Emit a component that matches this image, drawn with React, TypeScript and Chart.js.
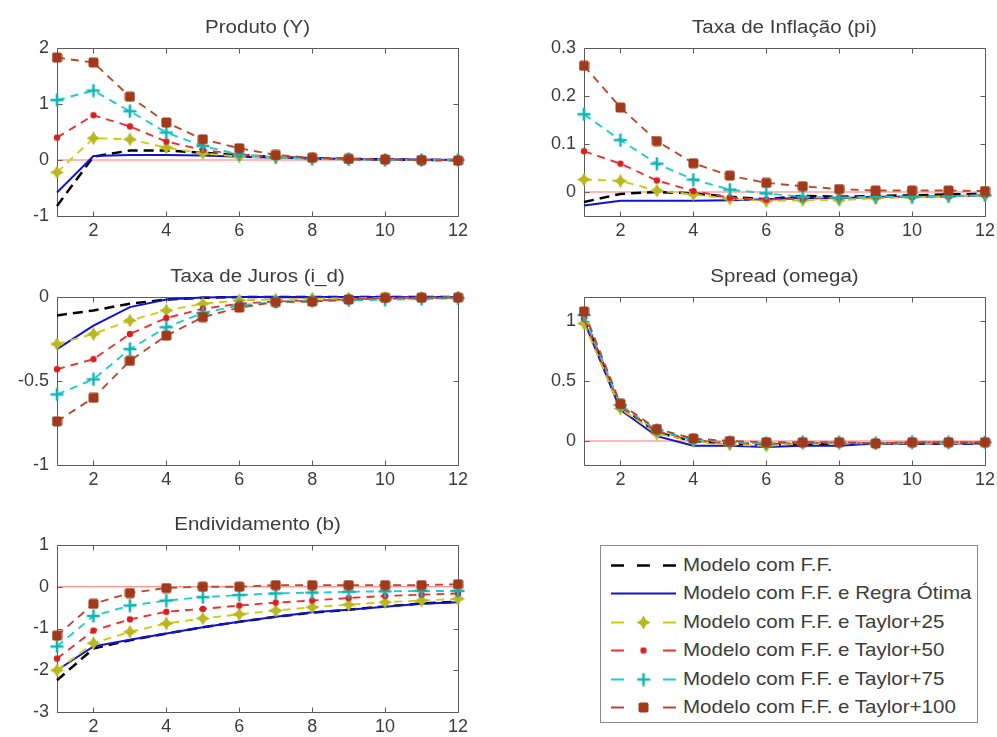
import React, { useEffect, useRef } from "react";
import { Chart, registerables } from "chart.js";

Chart.register(...registerables);

// ---------------- data ----------------
const periods = [1, 2, 3, 4, 5, 6, 7, 8, 9, 10, 11, 12];
const xTicks = [2, 4, 6, 8, 10, 12];
const zeroLine = [0, 0, 0, 0, 0, 0, 0, 0, 0, 0, 0, 0];

const seriesLabels = [
  "Modelo com F.F.",
  "Modelo com F.F. e Regra Ótima",
  "Modelo com F.F. e Taylor+25",
  "Modelo com F.F. e Taylor+50",
  "Modelo com F.F. e Taylor+75",
  "Modelo com F.F. e Taylor+100",
];

// Produto (Y)
const produtoFF = [-0.82, 0.06, 0.17, 0.17, 0.13, 0.09, 0.05, 0.03, 0.02, 0.01, 0.0, 0.0];
const produtoOtima = [-0.58, 0.07, 0.09, 0.09, 0.08, 0.06, 0.04, 0.03, 0.02, 0.01, 0.01, 0.0];
const produtoT25 = [-0.22, 0.39, 0.37, 0.22, 0.12, 0.06, 0.04, 0.02, 0.01, 0.0, 0.0, 0.0];
const produtoT50 = [0.4, 0.8, 0.6, 0.33, 0.18, 0.1, 0.05, 0.03, 0.01, 0.0, 0.0, 0.0];
const produtoT75 = [1.07, 1.24, 0.87, 0.49, 0.25, 0.1, 0.05, 0.02, 0.01, 0.0, 0.0, 0.0];
const produtoT100 = [1.83, 1.74, 1.13, 0.67, 0.37, 0.21, 0.09, 0.04, 0.02, 0.01, 0.0, -0.01];
const produtoTicks = [-1, 0, 1, 2];

// Taxa de Inflação (pi)
const inflFF = [-0.021, -0.004, 0.0, -0.003, -0.01, -0.015, -0.008, -0.01, -0.008, -0.007, -0.005, -0.004];
const inflOtima = [-0.028, -0.018, -0.018, -0.018, -0.017, -0.015, -0.012, -0.013, -0.01, -0.01, -0.009, -0.007];
const inflT25 = [0.026, 0.023, 0.003, -0.005, -0.014, -0.019, -0.017, -0.017, -0.013, -0.011, -0.009, -0.007];
const inflT50 = [0.085, 0.059, 0.024, 0.002, -0.012, -0.016, -0.014, -0.012, -0.01, -0.01, -0.009, -0.007];
const inflT75 = [0.162, 0.108, 0.059, 0.026, 0.005, -0.003, -0.01, -0.012, -0.01, -0.01, -0.009, -0.007];
const inflT100 = [0.263, 0.176, 0.106, 0.06, 0.034, 0.019, 0.012, 0.006, 0.003, 0.003, 0.003, 0.002];
const inflTicks = [0, 0.1, 0.2, 0.3];

// Taxa de Juros (i_d)
const jurosFF = [-0.11, -0.08, -0.04, -0.015, -0.005, 0.0, 0.0, 0.0, 0.0, 0.0, 0.0, 0.0];
const jurosOtima = [-0.31, -0.17, -0.06, -0.015, -0.003, 0.0, 0.0, 0.0, 0.0, 0.0, 0.0, 0.0];
const jurosT25 = [-0.28, -0.22, -0.14, -0.08, -0.04, -0.02, -0.015, -0.01, -0.008, -0.006, -0.004, -0.003];
const jurosT50 = [-0.43, -0.37, -0.22, -0.125, -0.07, -0.04, -0.027, -0.02, -0.015, -0.01, -0.007, -0.005];
const jurosT75 = [-0.58, -0.49, -0.31, -0.18, -0.095, -0.05, -0.03, -0.024, -0.02, -0.016, -0.012, -0.008];
const jurosT100 = [-0.74, -0.6, -0.38, -0.23, -0.12, -0.063, -0.03, -0.027, -0.015, -0.005, -0.004, -0.004];
const jurosTicks = [-1, -0.5, 0];

// Spread (omega)
const spreadFF = [1.03, 0.29, 0.07, 0.0, -0.02, -0.03, -0.03, -0.02, -0.02, -0.02, -0.02, -0.02];
const spreadOtima = [1.0, 0.26, 0.04, -0.04, -0.04, -0.05, -0.04, -0.04, -0.02, -0.02, -0.02, -0.02];
const spreadT25 = [0.98, 0.27, 0.06, 0.0, -0.03, -0.04, -0.02, -0.02, -0.02, -0.02, -0.02, -0.01];
const spreadT50 = [1.02, 0.29, 0.08, 0.01, -0.02, -0.02, -0.02, -0.01, -0.02, -0.01, -0.01, -0.01];
const spreadT75 = [1.05, 0.3, 0.09, 0.01, -0.01, -0.02, -0.01, -0.01, -0.02, -0.01, -0.01, -0.01];
const spreadT100 = [1.08, 0.31, 0.1, 0.02, 0.0, -0.01, -0.01, -0.01, -0.02, -0.01, -0.01, -0.01];
const spreadTicks = [0, 0.5, 1];

// Endividamento (b)
const endivFF = [-2.24, -1.48, -1.28, -1.12, -0.97, -0.84, -0.72, -0.62, -0.55, -0.47, -0.4, -0.36];
const endivOtima = [-2.0, -1.43, -1.27, -1.12, -0.97, -0.84, -0.72, -0.61, -0.55, -0.48, -0.41, -0.37];
const endivT25 = [-2.0, -1.35, -1.08, -0.88, -0.76, -0.66, -0.57, -0.49, -0.43, -0.37, -0.33, -0.29];
const endivT50 = [-1.72, -1.05, -0.78, -0.6, -0.53, -0.45, -0.38, -0.33, -0.27, -0.22, -0.19, -0.16];
const endivT75 = [-1.43, -0.7, -0.45, -0.33, -0.25, -0.2, -0.16, -0.14, -0.12, -0.11, -0.1, -0.1];
const endivT100 = [-1.17, -0.41, -0.15, -0.03, 0.0, 0.0, 0.04, 0.04, 0.04, 0.04, 0.04, 0.06];
const endivTicks = [-3, -2, -1, 0, 1];

// ---------------- styles ----------------
const FONT = '"Liberation Sans", Arial, Helvetica, sans-serif';
const TEXT = "#3c3c3c";
const FRAME = "#5a5a5a";

type MarkerKind = "none" | "star4" | "plus" | "dot" | "square";
type SeriesStyle = {
  line: string;
  marker: string;
  width: number;
  dash: number[];
  kind: MarkerKind;
};

const styles: SeriesStyle[] = [
  { line: "#000000", marker: "#000000", width: 2.5, dash: [10, 6], kind: "none" },
  { line: "#1212d6", marker: "#1212d6", width: 2, dash: [], kind: "none" },
  { line: "#cccc10", marker: "#b8b820", width: 1.9, dash: [8, 6], kind: "star4" },
  { line: "#ee3030", marker: "#d82020", width: 1.9, dash: [8, 6], kind: "dot" },
  { line: "#20cccc", marker: "#12b4b4", width: 1.9, dash: [8, 6], kind: "plus" },
  { line: "#b84a2a", marker: "#a03a1a", width: 1.9, dash: [8, 6], kind: "square" },
];

const markerCache: Record<string, HTMLCanvasElement> = {};
function makeMarker(kind: MarkerKind, color: string): HTMLCanvasElement | null {
  if (kind === "none") return null;
  const key = kind + color;
  if (markerCache[key]) return markerCache[key];
  const size = kind === "star4" ? 15 : kind === "plus" ? 14 : kind === "dot" ? 8 : 11;
  const c = document.createElement("canvas");
  c.width = size;
  c.height = size;
  const g = c.getContext("2d")!;
  const m = size / 2;
  g.fillStyle = color;
  g.strokeStyle = color;
  if (kind === "star4") {
    const r = m - 0.5;
    const ri = 2.6;
    g.beginPath();
    g.moveTo(m, m - r);
    g.lineTo(m + ri, m - ri);
    g.lineTo(m + r, m);
    g.lineTo(m + ri, m + ri);
    g.lineTo(m, m + r);
    g.lineTo(m - ri, m + ri);
    g.lineTo(m - r, m);
    g.lineTo(m - ri, m - ri);
    g.closePath();
    g.fill();
  } else if (kind === "plus") {
    g.lineWidth = 2.6;
    g.beginPath();
    g.moveTo(m, 0.5);
    g.lineTo(m, size - 0.5);
    g.moveTo(0.5, m);
    g.lineTo(size - 0.5, m);
    g.stroke();
  } else if (kind === "dot") {
    g.beginPath();
    g.arc(m, m, 3.2, 0, Math.PI * 2);
    g.fill();
  } else if (kind === "square") {
    const s = size - 1;
    const x0 = 0.5;
    const rr = 2;
    g.beginPath();
    g.moveTo(x0 + rr, x0);
    g.lineTo(x0 + s - rr, x0);
    g.quadraticCurveTo(x0 + s, x0, x0 + s, x0 + rr);
    g.lineTo(x0 + s, x0 + s - rr);
    g.quadraticCurveTo(x0 + s, x0 + s, x0 + s - rr, x0 + s);
    g.lineTo(x0 + rr, x0 + s);
    g.quadraticCurveTo(x0, x0 + s, x0, x0 + s - rr);
    g.lineTo(x0, x0 + rr);
    g.quadraticCurveTo(x0, x0, x0 + rr, x0);
    g.closePath();
    g.fill();
  }
  markerCache[key] = c;
  return c;
}

// ---------------- plugin: MATLAB-like frame, inward ticks, title ----------------
const framePlugin = {
  id: "matFrame",
  beforeDatasetsDraw(chart: any) {
    const { ctx, chartArea: a, scales } = chart;
    const x = scales.x;
    const y = scales.y;
    const L = Math.round(a.left) + 0.5;
    const R = Math.round(a.right) + 0.5;
    const T = Math.round(a.top) + 0.5;
    const B = Math.round(a.bottom) + 0.5;
    ctx.save();
    ctx.strokeStyle = FRAME;
    ctx.lineWidth = 1;
    ctx.beginPath();
    ctx.rect(L, T, R - L, B - T);
    const tl = 5;
    x.ticks.forEach((t: any) => {
      const px = Math.round(x.getPixelForValue(t.value)) + 0.5;
      ctx.moveTo(px, B);
      ctx.lineTo(px, B - tl);
      ctx.moveTo(px, T);
      ctx.lineTo(px, T + tl);
    });
    y.ticks.forEach((t: any) => {
      const py = Math.round(y.getPixelForValue(t.value)) + 0.5;
      ctx.moveTo(L, py);
      ctx.lineTo(L + tl, py);
      ctx.moveTo(R, py);
      ctx.lineTo(R - tl, py);
    });
    ctx.stroke();
    ctx.restore();
  },
  afterDraw(chart: any, _args: any, opts: any) {
    if (!opts || !opts.text) return;
    const { ctx, chartArea: a } = chart;
    ctx.save();
    ctx.fillStyle = TEXT;
    ctx.font = `${opts.size || 17}px ${FONT}`;
    ctx.textAlign = "center";
    ctx.textBaseline = "middle";
    ctx.translate((a.left + a.right) / 2, a.top - (opts.gap || 20));
    ctx.scale(opts.stretch || 1, 1);
    ctx.fillText(opts.text, 0, 0);
    ctx.restore();
  },
};

// ---------------- subplot ----------------
const PAD_L = 62;
const PAD_T = 44;
const PAD_R = 30;
const PAD_B = 30;

type PanelProps = {
  title: string;
  series: number[][];
  yMin: number;
  yMax: number;
  yTicks: number[];
  left: number;
  top: number;
  width: number;
  height: number;
};

function Panel(props: PanelProps) {
  const ref = useRef<HTMLCanvasElement | null>(null);
  useEffect(() => {
    const canvas = ref.current!;
    const datasets: any[] = props.series.map((vals, i) => {
      const st = styles[i];
      const mk = makeMarker(st.kind, st.marker);
      return {
        label: seriesLabels[i],
        data: vals.map((v, k) => ({ x: periods[k], y: v })),
        borderColor: st.line,
        backgroundColor: st.marker,
        borderWidth: st.width,
        borderDash: st.dash,
        pointStyle: mk || "circle",
        pointRadius: mk ? 6 : 0,
        pointHoverRadius: mk ? 6 : 0,
        tension: 0,
        fill: false,
        clip: false,
        order: 10 - i,
      };
    });
    datasets.push({
      label: "zero",
      data: zeroLine.map((v, k) => ({ x: periods[k], y: v })),
      borderColor: "rgba(255,40,40,0.65)",
      borderWidth: 1,
      pointRadius: 0,
      tension: 0,
      fill: false,
      order: 20,
    });
    const tickFont = { family: FONT, size: 18 };
    const chart = new Chart(canvas, {
      type: "line",
      data: { datasets },
      plugins: [framePlugin],
      options: {
        animation: false,
        responsive: false,
        maintainAspectRatio: false,
        events: [],
        layout: { padding: { left: 0, top: PAD_T, right: PAD_R, bottom: 0 } },
        plugins: {
          legend: { display: false },
          tooltip: { enabled: false },
          title: { display: false },
          matFrame: { text: props.title, size: 18, gap: 20, stretch: 1.14 },
        } as any,
        scales: {
          x: {
            type: "linear",
            min: 1,
            max: 12,
            afterBuildTicks: (s: any) => {
              s.ticks = xTicks.map((v) => ({ value: v }));
            },
            afterFit: (s: any) => {
              s.height = PAD_B;
            },
            grid: { display: false, drawTicks: false },
            border: { display: false },
            ticks: {
              padding: 4,
              color: TEXT,
              font: tickFont,
              maxRotation: 0,
              autoSkip: false,
              callback: (v: any) => String(v),
            },
          },
          y: {
            type: "linear",
            min: props.yMin,
            max: props.yMax,
            afterBuildTicks: (s: any) => {
              s.ticks = props.yTicks.map((v) => ({ value: v }));
            },
            afterFit: (s: any) => {
              s.width = PAD_L;
            },
            grid: { display: false, drawTicks: false },
            border: { display: false },
            ticks: {
              padding: 8,
              color: TEXT,
              font: tickFont,
              autoSkip: false,
              callback: (v: any) => String(v),
            },
          },
        },
      } as any,
    });
    return () => chart.destroy();
  }, []);
  const w = props.width + PAD_L + PAD_R;
  const h = props.height + PAD_T + PAD_B;
  return (
    <canvas
      ref={ref}
      width={w}
      height={h}
      style={{
        position: "absolute",
        left: props.left - PAD_L,
        top: props.top - PAD_T,
        width: w,
        height: h,
      }}
    />
  );
}

// ---------------- legend ----------------
function LegendSample({ idx }: { idx: number }) {
  const ref = useRef<HTMLCanvasElement | null>(null);
  useEffect(() => {
    const c = ref.current!;
    const g = c.getContext("2d")!;
    g.clearRect(0, 0, c.width, c.height);
    const st = styles[idx];
    const cy = 10.5;
    g.strokeStyle = st.line;
    g.lineWidth = st.width;
    g.beginPath();
    if (st.dash.length === 0) {
      g.moveTo(0, cy);
      g.lineTo(65, cy);
    } else if (st.kind === "none") {
      [[0, 13], [26, 39], [52, 65]].forEach(([a, b]) => {
        g.moveTo(a, cy);
        g.lineTo(b, cy);
      });
    } else {
      [[0, 13], [52, 65]].forEach(([a, b]) => {
        g.moveTo(a, cy);
        g.lineTo(b, cy);
      });
    }
    g.stroke();
    const mk = makeMarker(st.kind, st.marker);
    if (mk) g.drawImage(mk, 32.5 - mk.width / 2, cy - mk.height / 2);
  }, [idx]);
  return (
    <canvas
      ref={ref}
      width={66}
      height={21}
      style={{ position: "absolute", left: 10, top: -10, width: 66, height: 21 }}
    />
  );
}

function Legend() {
  return (
    <div
      style={{
        position: "absolute",
        left: 600,
        top: 545,
        width: 378,
        height: 178,
        boxSizing: "border-box",
        border: "1px solid #8a8a8a",
        background: "#fff",
      }}
    >
      {seriesLabels.map((lab, i) => (
        <div
          key={lab}
          style={{ position: "absolute", left: 0, top: 19 + i * 28.4, height: 0, width: "100%" }}
        >
          <LegendSample idx={i} />
          <span
            style={{
              position: "absolute",
              left: 82,
              top: -12,
              fontFamily: FONT,
              fontSize: 19,
              lineHeight: "23px",
              color: TEXT,
              whiteSpace: "nowrap",
              transform: "scaleX(1.08)",
              transformOrigin: "left center",
            }}
          >
            {lab}
          </span>
        </div>
      ))}
    </div>
  );
}

export default function App() {
  return (
    <div
      style={{
        position: "absolute",
        left: 0,
        top: 0,
        width: 997,
        height: 737,
        background: "#fff",
        overflow: "hidden",
      }}
    >
      <Panel
        title="Produto (Y)"
        series={[produtoFF, produtoOtima, produtoT25, produtoT50, produtoT75, produtoT100]}
        yMin={-1}
        yMax={2}
        yTicks={produtoTicks}
        left={57}
        top={48}
        width={401}
        height={168}
      />
      <Panel
        title="Taxa de Inflação (pi)"
        series={[inflFF, inflOtima, inflT25, inflT50, inflT75, inflT100]}
        yMin={-0.05}
        yMax={0.3}
        yTicks={inflTicks}
        left={584}
        top={48}
        width={401}
        height={168}
      />
      <Panel
        title="Taxa de Juros (i_d)"
        series={[jurosFF, jurosOtima, jurosT25, jurosT50, jurosT75, jurosT100]}
        yMin={-1}
        yMax={0}
        yTicks={jurosTicks}
        left={57}
        top={297}
        width={401}
        height={168}
      />
      <Panel
        title="Spread (omega)"
        series={[spreadFF, spreadOtima, spreadT25, spreadT50, spreadT75, spreadT100]}
        yMin={-0.2}
        yMax={1.2}
        yTicks={spreadTicks}
        left={584}
        top={297}
        width={401}
        height={168}
      />
      <Panel
        title="Endividamento (b)"
        series={[endivFF, endivOtima, endivT25, endivT50, endivT75, endivT100]}
        yMin={-3}
        yMax={1}
        yTicks={endivTicks}
        left={57}
        top={545}
        width={401}
        height={167}
      />
      <Legend />
    </div>
  );
}
